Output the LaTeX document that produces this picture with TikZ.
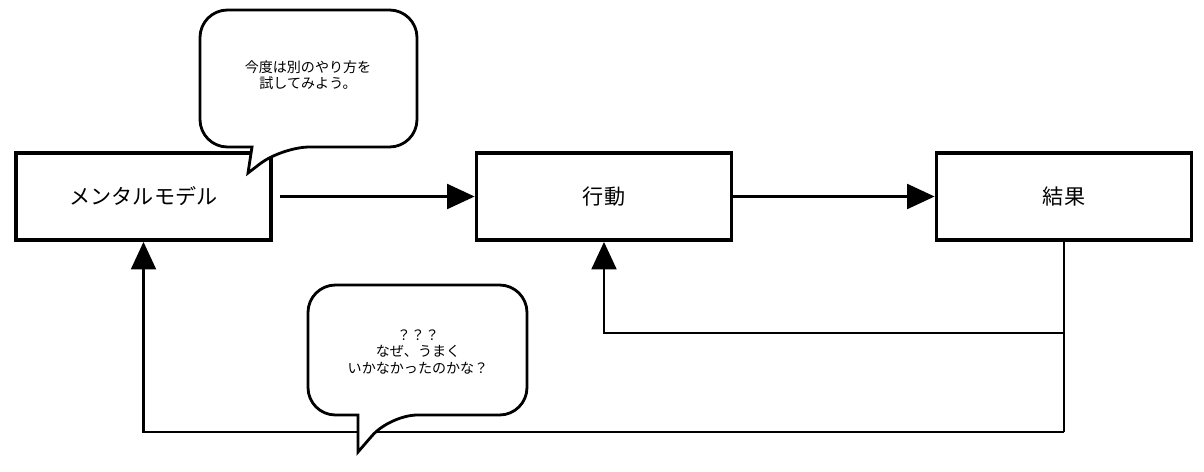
\documentclass[tikz,border=0pt]{standalone}
\usepackage{fontspec}
\setmainfont{Noto Sans CJK JP}
\usetikzlibrary{positioning, arrows.meta}
\tikzset{
box/.style={draw, line width=2.2pt, minimum width=5.1cm, minimum height=1.74cm, font=\large},
flow/.style={line width=1.2pt, -{Triangle[length=0.55cm, width=0.5cm]}},
line/.style={line width=1.2pt},
bubble/.style={line width=1.6pt, fill=white},
}
\begin{document}
\begin{tikzpicture}[x=0.02cm, y=-0.02cm]
    \useasboundingbox (0,0) rectangle (1204,471);

    %boxes
    \node[box] (model)  at (143.5,196.5) {メンタルモデル};
    \node[box] (action) at (604,196.5) {行動};
    \node[box] (result) at (1064,196.5) {結果};

    %forward arrows
    \draw[flow, shorten <=4pt] (model.east) -- (action.west);
    \draw[flow] (action.east) -- (result.west);

    %feedback
    \coordinate (fb1) at (1064,333);
    \coordinate (fb2) at (1064,432);
    \draw[line] (result.south) -- (fb2);
    \draw[flow] (fb1) -| (action.south);
    \draw[flow] (fb2) -| (model.south);

    %callout 1
    \draw[bubble, rounded corners=0.55cm] (200,10) -- (417,10) -- (417,147) -- (282,147)
        [sharp corners] -- (248,173) -- (252,147) [rounded corners=0.55cm] -- (200,147) -- cycle;
    \node[font=\footnotesize, align=center] (say1) at (308,75) {今度は別のやり方を\\試してみよう。};

    %callout 2
    \draw[bubble, rounded corners=0.55cm] (308,285) -- (527,285) -- (527,415) -- (390,415)
        [sharp corners] -- (358,452) -- (358,415) [rounded corners=0.55cm] -- (308,415) -- cycle;
    \node[font=\footnotesize, align=center] (say2) at (418,352) {？？？\\なぜ、うまく\\いかなかったのかな？};
\end{tikzpicture}
\end{document}
